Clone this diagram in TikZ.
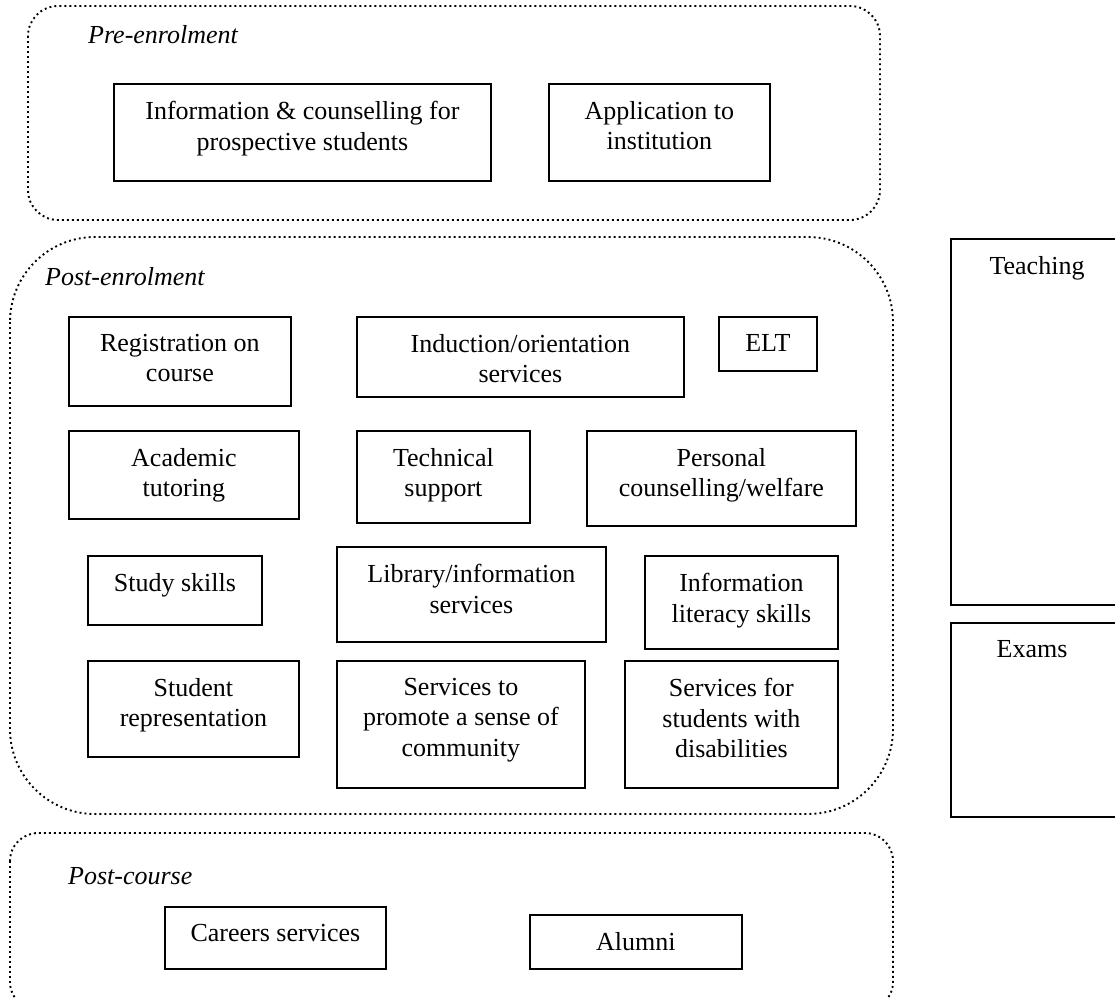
\documentclass[tikz,border=0pt]{standalone}
\usepackage{fontspec}
\setmainfont{Liberation Serif}
\begin{document}
\begin{tikzpicture}[x=1pt,y=-1pt,
  box/.style={draw=black, line width=1.8pt, rectangle, inner sep=0, anchor=north west},
  txt/.style={font=\fontsize{26}{30.5}\selectfont, align=center, inner sep=0, anchor=north},
  lbl/.style={font=\fontsize{26}{30.5}\selectfont\itshape, inner sep=0, anchor=base west},
  region/.style={draw=black, line width=1.9pt, dash pattern=on 1.9pt off 3.1pt}]
\useasboundingbox (0,0) rectangle (1115,997);

% regions
\draw[region, rounded corners=30pt] (28,6) rectangle (880,220);
\draw[region, rounded corners=85pt] (10,237) rectangle (893,814);
\draw[region, rounded corners=28pt] (10,833) rectangle (893,1010);

\node[lbl] (pre) at (88,43) {Pre-enrolment};
\node[lbl] (post) at (45,285) {Post-enrolment};
\node[lbl] (postc) at (68,884) {Post-course};

% boxes
\newcommand{\bx}[6]{%
  \node[box, minimum width=#4pt, minimum height=#5pt] (#1) at (#2,#3) {};
  \node[txt] (#1-t) at ([yshift=-18pt]#1.north) {#6};}

\bx{info}{113}{83}{377}{97}{Information \& counselling for\\prospective students}
\bx{app}{548}{83}{221}{97}{Application to\\institution}
\bx{reg}{68}{316}{222}{89}{Registration on\\course}
\bx{ind}{356}{316}{327}{80}{Induction/orientation\\services}
\bx{elt}{718}{316}{98}{54}{ELT}
\bx{acad}{68}{430}{230}{88}{Academic\\tutoring}
\bx{tech}{356}{430}{173}{92}{Technical\\support}
\bx{pers}{586}{430}{269}{95}{Personal\\counselling/welfare}
\bx{study}{87}{555}{174}{69}{Study skills}
\bx{lib}{336}{546}{269}{95}{Library/information\\services}
\bx{infolit}{644}{555}{193}{93}{Information\\literacy skills}
\bx{stud}{87}{660}{211}{96}{Student\\representation}
\bx{comm}{336}{660}{248}{127}{Services to\\promote a sense of\\community}
\bx{dis}{624}{660}{213}{127}{Services for\\students with\\disabilities}
\bx{careers}{164}{906}{221}{62}{Careers services}
\bx{alumni}{529}{914}{212}{54}{Alumni}

% right column (cut off at the right edge)
\node[box, minimum width=200pt, minimum height=366pt] (teach) at (950,238) {};
\node[txt] (teach-t) at (1037,256) {Teaching};
\node[box, minimum width=200pt, minimum height=194pt] (exams) at (950,622) {};
\node[txt] (exams-t) at (1032,640) {Exams};
\end{tikzpicture}
\end{document}
